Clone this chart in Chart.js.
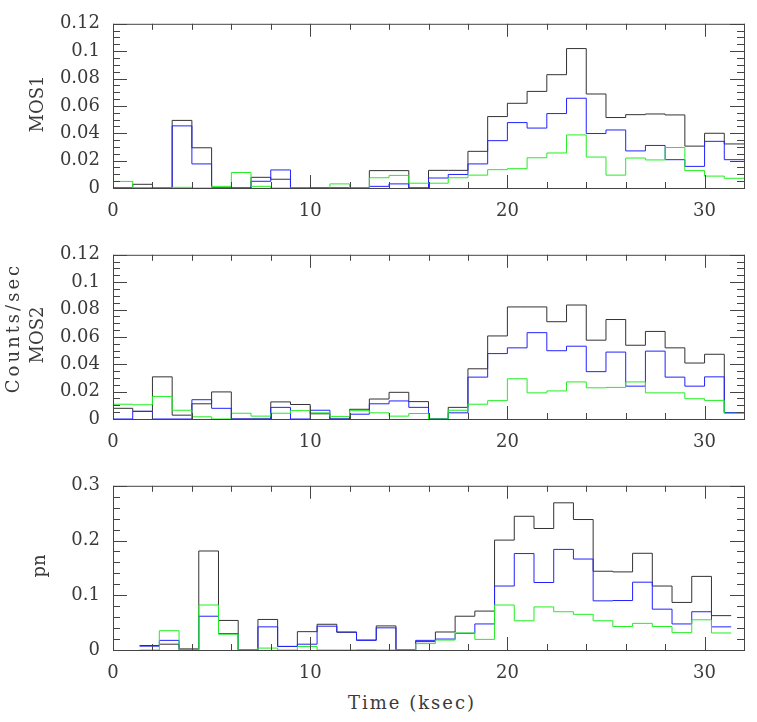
<!DOCTYPE html>
<html>
<head>
<meta charset="utf-8">
<script src="https://cdn.jsdelivr.net/npm/chart.js@4.4.1/dist/chart.umd.min.js"></script>
<style>
  body { margin: 0; background: #fff; }
  #wrap { position: relative; width: 757px; height: 722px; font-family: "DejaVu Serif", serif; color: #3a3a3a; }
  #wrap canvas { position: absolute; left: 0; }
  .lab { position: absolute; white-space: nowrap; font-size: 18px; line-height: 1; }
  .rot { transform: translate(-50%, -50%) rotate(-90deg); }
  .ctr { transform: translate(-50%, -50%); }
</style>
</head>
<body>
<div id="wrap">
  <canvas id="mos1Chart" width="757" height="230" style="top:0px"></canvas>
  <canvas id="mos2Chart" width="757" height="230" style="top:231px"></canvas>
  <canvas id="pnChart" width="757" height="230" style="top:462px"></canvas>
  <div class="lab rot" style="left:37px; top:104px;">MOS1</div>
  <div class="lab rot" style="left:37px; top:335px;">MOS2</div>
  <div class="lab rot" style="left:39px; top:566px;">pn</div>
  <div class="lab rot" style="left:13px; top:328px; letter-spacing:3px;">Counts/sec</div>
  <div class="lab ctr" style="left:412px; top:703px; letter-spacing:2px;">Time (ksec)</div>
</div>
<script>
// bin start times (ksec), bins are 1 ksec wide
const binWidth = 1;
const timeMos = [0, 1, 2, 3, 4, 5, 6, 7, 8, 9, 10, 11, 12, 13, 14, 15,
                 16, 17, 18, 19, 20, 21, 22, 23, 24, 25, 26, 27, 28, 29, 30, 31];
const timePn = [1.35, 2.35, 3.35, 4.35, 5.35, 6.35, 7.35, 8.35, 9.35, 10.35,
                11.35, 12.35, 13.35, 14.35, 15.35, 16.35, 17.35, 18.35, 19.35, 20.35,
                21.35, 22.35, 23.35, 24.35, 25.35, 26.35, 27.35, 28.35, 29.35, 30.35];

// MOS1 count rates
const mos1Black = [0, 0.0027, 0, 0.0494, 0.0294, 0, 0, 0.0078, 0.0064, 0, 0.0003, 0, 0, 0.0127, 0.0127, 0,
                   0.0129, 0.0129, 0.0268, 0.0522, 0.0619, 0.0706, 0.0828, 0.1019, 0.0687, 0.0515, 0.0536, 0.0541, 0.0534, 0.0306, 0.0400, 0.0322];
const mos1Blue = [0, 0, 0, 0.0454, 0.0176, 0, 0, 0.0049, 0.0132, 0, 0, 0, 0, 0.0012, 0.0030, 0,
                  0.0073, 0.0099, 0.0176, 0.0346, 0.0478, 0.0438, 0.0544, 0.0656, 0.0398, 0.0424, 0.0271, 0.0311, 0.0207, 0.0158, 0.0341, 0.0207];
const mos1Green = [0.0048, 0, 0, 0.0005, 0, 0.0012, 0.0113, 0.0012, 0, 0, 0, 0.0030, 0, 0.0075, 0.0092, 0.0035,
                   0.0035, 0.0075, 0.0094, 0.0134, 0.0141, 0.0221, 0.0256, 0.0388, 0.0226, 0.0094, 0.0219, 0.0205, 0.0296, 0.0127, 0.0087, 0.0071];

// MOS2 count rates
const mos2Black = [0.0078, 0.0056, 0.0308, 0.0028, 0.0111, 0.0198, 0, 0, 0.0125, 0.0106, 0.0038, 0, 0.0071, 0.0146, 0.0195, 0.0127,
                   0, 0.0085, 0.0367, 0.0607, 0.0819, 0.0819, 0.0711, 0.0833, 0.0576, 0.0727, 0.0539, 0.0640, 0.0520, 0.0409, 0.0473, 0.0045];
const mos2Blue = [0, 0.0056, 0, 0, 0.0141, 0.0078, 0, 0, 0.0085, 0, 0.0064, 0, 0.0035, 0.0111, 0.0132, 0.0085,
                  0, 0.0045, 0.0306, 0.0478, 0.0520, 0.0631, 0.0499, 0.0532, 0.0346, 0.0489, 0.0240, 0.0496, 0.0306, 0.0240, 0.0308, 0.0047];
const mos2Green = [0.0108, 0.0104, 0.0165, 0.0064, 0.0016, 0, 0.0042, 0.0021, 0.0042, 0.0061, 0.0045, 0.0019, 0.0061, 0.0045, 0.0021, 0.0040,
                   0, 0.0064, 0.0108, 0.0134, 0.0294, 0.0191, 0.0205, 0.0271, 0.0228, 0.0231, 0.0271, 0.0191, 0.0191, 0.0148, 0.0136, 0.0042];

// pn count rates
const pnBlack = [0.0082, 0.0106, 0.0020, 0.1809, 0.0540, 0, 0.0558, 0.0065, 0.0335, 0.0470,
                 0.0323, 0.0182, 0.0440, 0, 0.0153, 0.0329, 0.0617, 0.0711, 0.2008, 0.2443,
                 0.2220, 0.2689, 0.2384, 0.1439, 0.1427, 0.1767, 0.1169, 0.0869, 0.1345, 0.0628];
const pnBlue = [0.0070, 0.0176, 0, 0.0617, 0.0300, 0, 0.0423, 0.0065, 0.0106, 0.0435,
                0.0329, 0.0176, 0.0405, 0, 0.0176, 0.0200, 0.0305, 0.0476, 0.1169, 0.1762,
                0.1233, 0.1838, 0.1662, 0.0898, 0.0904, 0.1239, 0.0746, 0.0476, 0.0699, 0.0423];
const pnGreen = [0, 0.0352, 0, 0.0822, 0.0288, 0, 0.0035, 0, 0.0065, 0,
                 0, 0.0004, 0, 0, 0.0117, 0.0182, 0.0311, 0.0194, 0.0822, 0.0534,
                 0.0787, 0.0699, 0.0652, 0.0534, 0.0429, 0.0487, 0.0429, 0.0317, 0.0552, 0.0311];

const textColor = '#3a3a3a';
const frameColor = '#444444';
const blackColor = '#333333';
const blueColor = '#2222ff';
const greenColor = '#22ee22';

function isMajor(v, step) {
    const r = v / step;
    return Math.abs(r - Math.round(r)) < 1e-6;
}

// frame + inward ticks on all four sides, drawn from the chart's scales
const frameTicks = {
    id: 'frameTicks',
    afterDatasetsDraw(chart, args, opts) {
        const ctx = chart.ctx;
        const a = chart.chartArea;
        const xs = chart.scales.x;
        const ys = chart.scales.y;
        ctx.save();
        ctx.strokeStyle = frameColor;
        ctx.lineWidth = 1;
        ctx.beginPath();
        xs.ticks.forEach(t => {
            const px = Math.round(xs.getPixelForValue(t.value)) + 0.5;
            const len = isMajor(t.value, opts.xMajor) ? 13 : 6;
            ctx.moveTo(px, a.bottom); ctx.lineTo(px, a.bottom - len);
            ctx.moveTo(px, a.top); ctx.lineTo(px, a.top + len);
        });
        ys.ticks.forEach(t => {
            const py = Math.round(ys.getPixelForValue(t.value)) + 0.5;
            const len = isMajor(t.value, opts.yMajor) ? 14 : 7;
            ctx.moveTo(a.left, py); ctx.lineTo(a.left + len, py);
            ctx.moveTo(a.right, py); ctx.lineTo(a.right - len, py);
        });
        ctx.stroke();
        ctx.strokeRect(a.left + 0.5, a.top + 0.5, a.right - a.left, a.bottom - a.top);
        ctx.restore();
    }
};

// one point per bin start plus the closing edge, drawn as a histogram
function stepPoints(time, vals) {
    const pts = time.map((t, i) => ({x: t, y: vals[i]}));
    pts.push({x: time[time.length - 1] + binWidth, y: vals[vals.length - 1]});
    return pts;
}

function makeChart(canvas_name, time, black, blue, green, yMax, yStep, yMajor) {
    const ctx = document.getElementById(canvas_name).getContext('2d');
    const lineSet = (vals, color) => ({
        data: stepPoints(time, vals),
        borderColor: color,
        borderWidth: 1,
        stepped: 'before',
        pointRadius: 0,
        fill: false,
        clip: false
    });
    const tickFont = {family: 'DejaVu Serif', size: 18};
    return new Chart(ctx, {
        type: 'line',
        data: {
            datasets: [
                lineSet(green, greenColor),
                lineSet(blue, blueColor),
                lineSet(black, blackColor)
            ]
        },
        options: {
            responsive: false,
            animation: false,
            layout: {padding: {left: 0, right: 11, top: 18, bottom: 0}},
            plugins: {
                legend: {display: false},
                tooltip: {enabled: false},
                frameTicks: {xMajor: 10, yMajor: yMajor}
            },
            scales: {
                x: {
                    type: 'linear', min: 0, max: 32,
                    grid: {display: false, drawTicks: false},
                    border: {display: false},
                    ticks: {
                        stepSize: 2, autoSkip: false, maxRotation: 0, padding: 13,
                        color: textColor, font: tickFont,
                        callback: v => isMajor(v, 10) ? String(Math.round(v)) : ''
                    },
                    afterFit: s => { s.height = 42; }
                },
                y: {
                    type: 'linear', min: 0, max: yMax,
                    grid: {display: false, drawTicks: false},
                    border: {display: false},
                    ticks: {
                        stepSize: yStep, autoSkip: false, maxTicksLimit: 100, padding: 13,
                        color: textColor, font: tickFont,
                        callback: v => isMajor(v, yMajor) ? String(Number(v.toFixed(3))) : ''
                    },
                    afterFit: s => { s.width = 113; }
                }
            }
        },
        plugins: [frameTicks]
    });
}

makeChart('mos1Chart', timeMos, mos1Black, mos1Blue, mos1Green, 0.12, 0.005, 0.02);
makeChart('mos2Chart', timeMos, mos2Black, mos2Blue, mos2Green, 0.12, 0.005, 0.02);
makeChart('pnChart', timePn, pnBlack, pnBlue, pnGreen, 0.3, 0.02, 0.1);
</script>
</body>
</html>
